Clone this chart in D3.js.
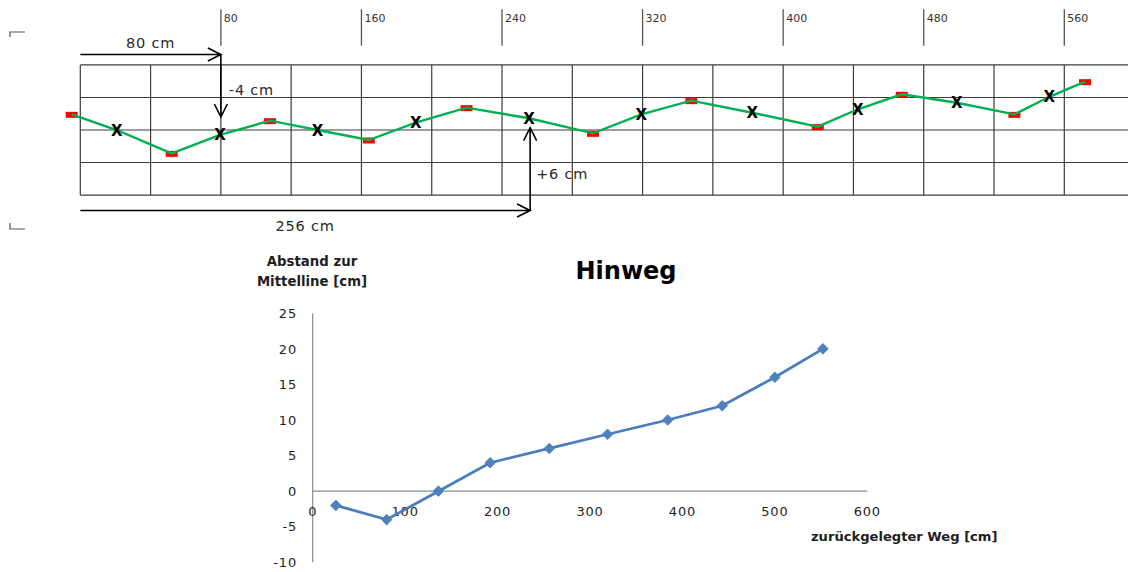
<!DOCTYPE html>
<html><head><meta charset="utf-8">
<script src="https://cdn.jsdelivr.net/npm/d3@7"></script>
<style>html,body{margin:0;padding:0;background:#fff;}svg{display:block;}</style>
</head><body>
<svg id="c" width="1128" height="572"></svg>
<script>
// ---- top sketch data (cm) ----
const rulerTicks = [80, 160, 240, 320, 400, 480, 560];
const gridCols = d3.range(0, 640, 40);
const gridRows = [37, 18.5, 0, -18.5, -37];
// zig-zag turning points (red markers)
const turnX = [-4.9, 52, 107.9, 164.2, 219.8, 291.8, 347.7, 419.7, 467.5, 531.6, 571.8];
const turnY = [8.9, -13.3, 5.3, -5.7, 12.7, -1.9, 16.7, 1.9, 20.3, 8.9, 27.5];
// measured points (X marks)
const markX = [20.7, 79.5, 135, 190.9, 255.4, 319.3, 382.4, 442.5, 498.8, 551.5];
const markY = [0, -2.8, 0, 4.2, 6.7, 8.9, 9.8, 11.8, 15.5, 18.9];
// ---- bottom chart data ----
const weg = [25, 80, 136, 192, 256, 319, 384, 443, 500, 552];
const abstand = [-2, -4, 0, 4, 6, 8, 10, 12, 16, 20];
const xTicks = [0, 100, 200, 300, 400, 500, 600];
const yTicks = [-10, -5, 0, 5, 10, 15, 20, 25];

const svg = d3.select("#c");
const F = "'DejaVu Sans', Verdana, sans-serif";

// ===== top sketch =====
const xT = d3.scaleLinear().domain([0, 560]).range([80.3, 1064.3]);
const yT = d3.scaleLinear().domain([-10, 10]).range([147.58, 112.42]);
const topG = svg.append("g");
const gridC = "#3c3c3c";
topG.selectAll(".gv").data(gridCols).join("line")
  .attr("x1", d => xT(d)).attr("x2", d => xT(d))
  .attr("y1", yT(gridRows[0])).attr("y2", yT(gridRows[gridRows.length - 1]))
  .attr("stroke", gridC).attr("stroke-width", 1.2);
topG.selectAll(".gh").data(gridRows).join("line")
  .attr("x1", xT(0)).attr("x2", 1130)
  .attr("y1", d => yT(d)).attr("y2", d => yT(d))
  .attr("stroke", gridC).attr("stroke-width", 1.2);
// ruler
topG.selectAll(".rt").data(rulerTicks).join("line")
  .attr("x1", d => xT(d)).attr("x2", d => xT(d)).attr("y1", 9.3).attr("y2", 45.7)
  .attr("stroke", "#555").attr("stroke-width", 1.3);
topG.selectAll(".rl").data(rulerTicks).join("text")
  .attr("x", d => xT(d) + 3).attr("y", 22.3).text(d => d)
  .attr("font-family", F).attr("font-size", 11).attr("fill", "#333");
// corner marks
topG.append("path").attr("d", "M10,37 V32 H25 M10,223 V229 H25")
  .attr("fill", "none").attr("stroke", "#555").attr("stroke-width", 1.2);

// path points
const pts = [];
turnX.forEach((tx, i) => {
  pts.push([tx, turnY[i]]);
  if (i < markX.length) pts.push([markX[i], markY[i]]);
});
topG.selectAll(".red").data(turnX).join("rect")
  .attr("x", (d) => xT(d) - 6).attr("y", (d, i) => yT(turnY[i]) - 2.5)
  .attr("width", 12).attr("height", 6).attr("fill", "#ff0000");
topG.append("path").datum(pts)
  .attr("d", d3.line().x(d => xT(d[0])).y(d => yT(d[1])))
  .attr("fill", "none").attr("stroke", "#00b050").attr("stroke-width", 2.4);
topG.selectAll(".xm").data(markX).join("text")
  .attr("x", d => xT(d)).attr("y", (d, i) => yT(markY[i]) + 5.5)
  .attr("text-anchor", "middle").attr("font-family", F).attr("font-weight", "bold")
  .attr("font-size", 15).attr("fill", "#000").text("X");

// arrows
function chevron(x, y, dir) {
  const L = 13, W = 6.5;
  if (dir === "right") return `M${x - L},${y - W} L${x},${y} L${x - L},${y + W}`;
  if (dir === "down") return `M${x - W},${y - L} L${x},${y} L${x + W},${y - L}`;
  if (dir === "up") return `M${x - W},${y + L} L${x},${y} L${x + W},${y + L}`;
}
const arr = topG.append("g").attr("fill", "none").attr("stroke", "#000").attr("stroke-width", 1.6);
const a1y = 54.5, a2y = 210.5;
arr.append("path").attr("d", `M${xT(0)},${a1y} H${xT(80)}` + chevron(xT(80), a1y, "right"));
arr.append("path").attr("d", `M${xT(80)},${a1y} V117` + chevron(xT(80), 117, "down"));
arr.append("path").attr("d", `M${xT(0)},${a2y} H${xT(256)}` + chevron(xT(256), a2y, "right"));
arr.append("path").attr("d", `M${xT(256)},${a2y} V127.7` + chevron(xT(256), 127.7, "up"));
const lab = (x, y, t, anchor) => topG.append("text").attr("x", x).attr("y", y).text(t)
  .attr("text-anchor", anchor || "start").attr("font-family", F).attr("font-size", 14.5)
  .attr("letter-spacing", 0.8).attr("fill", "#2a2a2a");
lab((xT(0) + xT(80)) / 2, 47.5, "80 cm", "middle");
lab(xT(80) + 8, 95, "-4 cm");
lab(xT(256) + 6, 178.5, "+6 cm");
lab(305, 230.7, "256 cm", "middle");

// ===== bottom chart =====
const x = d3.scaleLinear().domain([0, 600]).range([312.7, 867.3]);
const y = d3.scaleLinear().domain([-10, 25]).range([562.3, 313.3]);
const g = svg.append("g");
const axC = "#8a8a8a";
g.append("line").attr("x1", x(0)).attr("x2", x(0)).attr("y1", y(25)).attr("y2", y(-10))
  .attr("stroke", axC).attr("stroke-width", 1.2);
g.append("line").attr("x1", x(0)).attr("x2", x(600)).attr("y1", y(0)).attr("y2", y(0))
  .attr("stroke", axC).attr("stroke-width", 1.2);
g.selectAll(".yl").data(yTicks).join("text")
  .attr("x", 297).attr("y", d => y(d) + 4.7).attr("text-anchor", "end")
  .attr("font-family", F).attr("font-size", 13).attr("letter-spacing", 0.8)
  .attr("fill", "#1e1e1e").text(d => d);
g.selectAll(".xl").data(xTicks).join("text")
  .attr("x", d => x(d)).attr("y", y(0) + 24.5).attr("text-anchor", "middle")
  .attr("font-family", F).attr("font-size", 13).attr("letter-spacing", 0.8)
  .attr("fill", "#1e1e1e").text(d => d);

const data = weg.map((w, i) => [w, abstand[i]]);
g.append("path").datum(data)
  .attr("d", d3.line().x(d => x(d[0])).y(d => y(d[1])))
  .attr("fill", "none").attr("stroke", "#4a7ebb").attr("stroke-width", 2.8);
g.selectAll(".mk").data(data).join("path")
  .attr("d", d3.symbol().type(d3.symbolSquare).size(56))
  .attr("transform", d => `translate(${x(d[0])},${y(d[1])}) rotate(45)`)
  .attr("fill", "#4f81bd").attr("stroke", "#4a7ebb").attr("stroke-width", 0.8);

g.append("text").attr("x", 626).attr("y", 279).attr("text-anchor", "middle")
  .attr("font-family", F).attr("font-weight", "bold").attr("font-size", 24)
  .attr("fill", "#000").text("Hinweg");
const yt = g.append("text").attr("text-anchor", "middle").attr("font-family", F)
  .attr("font-weight", "bold").attr("font-size", 13.3).attr("fill", "#1e1e1e");
yt.append("tspan").attr("x", 312).attr("y", 266).text("Abstand zur");
yt.append("tspan").attr("x", 312).attr("y", 285.5).text("Mittelline [cm]");
g.append("text").attr("x", 811).attr("y", 540.5)
  .attr("font-family", F).attr("font-weight", "bold").attr("font-size", 13.1)
  .attr("fill", "#1e1e1e").text("zurückgelegter Weg [cm]");
</script>
</body></html>
